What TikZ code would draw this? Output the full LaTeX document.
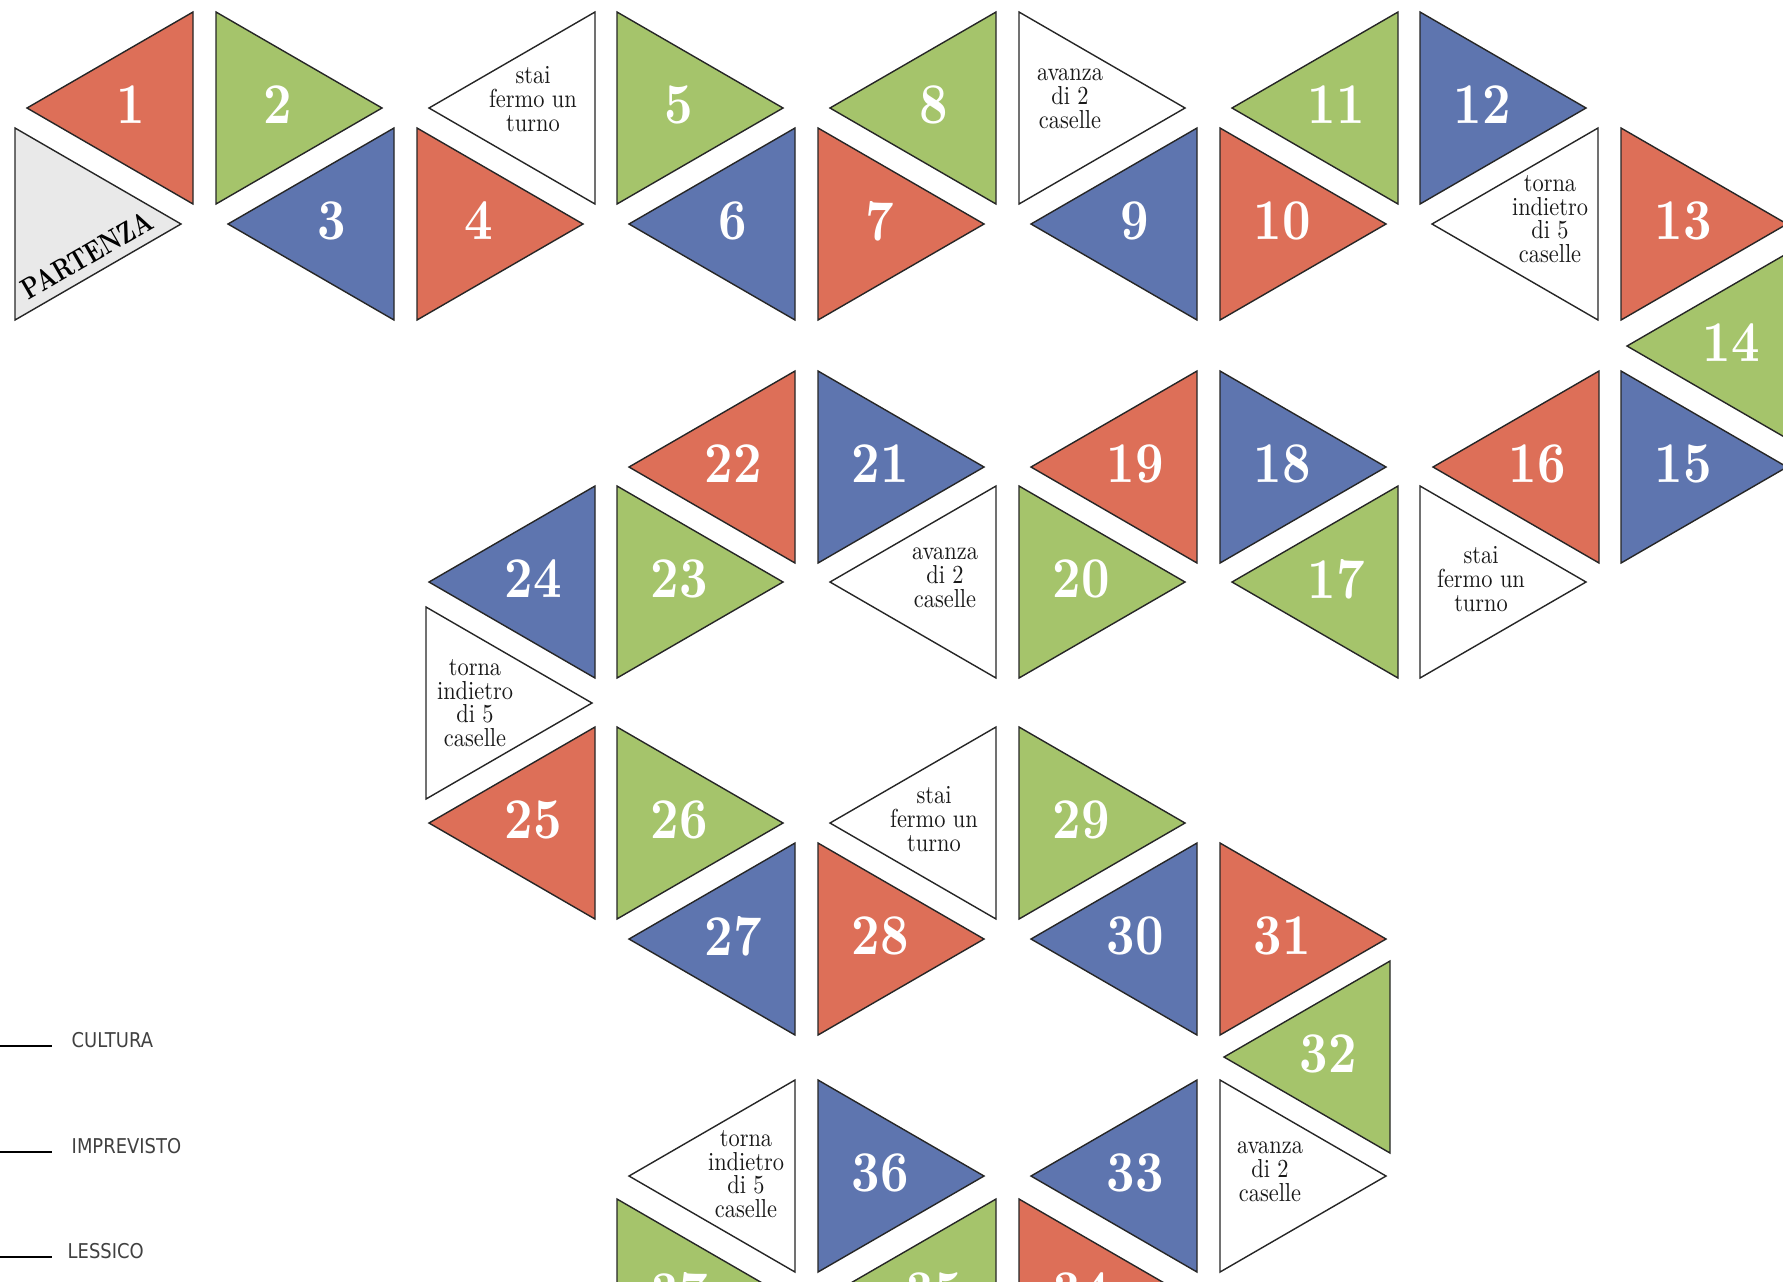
\documentclass[tikz,border=0pt]{standalone}
\usepackage{fontspec}
\newfontfamily\cellfont{lmroman10}[Extension=.otf, UprightFont=*-regular, BoldFont=*-bold, FakeStretch=0.86]
\newfontfamily\startfont{lmroman10}[Extension=.otf, UprightFont=*-bold, FakeStretch=0.78]
\newfontfamily\legendfont{DejaVu Sans}[FakeStretch=0.88]
\definecolor{boardred}{HTML}{DD6F58}
\definecolor{boardgreen}{HTML}{A5C46B}
\definecolor{boardblue}{HTML}{5E75AF}
\definecolor{boardgrey}{HTML}{E9E9E9}
\newcommand{\stai}{stai\\fermo un\\turno}
\newcommand{\avanza}{avanza\\di 2\\caselle}
\newcommand{\torna}{torna\\indietro\\di 5\\caselle}

\begin{document}
\begin{tikzpicture}[x=0.01cm, y=-0.01cm,
  cell/.style={draw=black!85, line width=0.4pt},
  numtxt/.style={text=white, inner sep=0pt, font={\cellfont\bfseries\fontsize{16.4pt}{18pt}\selectfont}},
  ruletxt/.style={text=black!90, inner sep=0pt, align=center, font={\cellfont\fontsize{7.4pt}{6.75pt}\selectfont}},
  legendtxt/.style={text=black!75, inner sep=0pt, anchor=base west, font={\legendfont\fontsize{5.8pt}{7pt}\selectfont}}]
\clip (0,0) rectangle (1783,1281);

% numbered cells: edge x / centre y / side / colour / number
\foreach \ex/\ey/\side/\col/\nr in {
  193/108/-1/boardred/1, 216/108/1/boardgreen/2, 617/108/1/boardgreen/5,
  996/108/-1/boardgreen/8, 1398/108/-1/boardgreen/11, 1420/108/1/boardblue/12,
  394/224/-1/boardblue/3, 417/224/1/boardred/4, 795/224/-1/boardblue/6,
  818/224/1/boardred/7, 1197/224/-1/boardblue/9, 1220/224/1/boardred/10,
  1621/224/1/boardred/13, 1793/346/-1/boardgreen/14,
  795/467/-1/boardred/22, 818/467/1/boardblue/21, 1197/467/-1/boardred/19,
  1220/467/1/boardblue/18, 1599/467/-1/boardred/16, 1621/467/1/boardblue/15,
  595/582/-1/boardblue/24, 617/582/1/boardgreen/23, 1019/582/1/boardgreen/20,
  1398/582/-1/boardgreen/17,
  595/823/-1/boardred/25, 617/823/1/boardgreen/26, 1019/823/1/boardgreen/29,
  795/939/-1/boardblue/27, 818/939/1/boardred/28, 1197/939/-1/boardblue/30,
  1220/939/1/boardred/31, 1390/1057/-1/boardgreen/32,
  818/1176/1/boardblue/36, 1197/1176/-1/boardblue/33,
  617/1295/1/boardgreen/37, 996/1295/-1/boardgreen/35, 1019/1295/1/boardred/34}
{
  \filldraw[cell, fill=\col] (\ex,\ey-96) -- (\ex,\ey+96) -- ({\ex+166*\side},\ey) -- cycle;
  \node[numtxt] (c\nr) at ({\ex+62*\side},\ey-3) {\nr};
}

% white cells: edge x / centre y / side / text shift / text lift / text
\foreach \ex/\ey/\side/\tx/\ty/\lab [count=\i] in {
  595/108/-1/62/-9/\stai, 1019/108/1/51/-9/\avanza, 1598/224/-1/48/-5/\torna,
  996/582/-1/51/-4/\avanza, 1420/582/1/61/-3/\stai, 426/703/1/49/0/\torna,
  996/823/-1/62/-4/\stai, 795/1176/-1/49/-2/\torna, 1220/1176/1/50/-4/\avanza}
{
  \filldraw[cell, fill=white] (\ex,\ey-96) -- (\ex,\ey+96) -- ({\ex+166*\side},\ey) -- cycle;
  \node[ruletxt] (w\i) at ({\ex+\tx*\side},\ey+\ty) {\lab};
}

% start cell
\filldraw[cell, fill=boardgrey] (15,128) -- (15,320) -- (181,224) -- cycle;
\node[rotate=30, inner sep=0pt, font={\startfont\fontsize{8.4pt}{9pt}\selectfont}] (start) at (87,255) {PARTENZA};

% legend
\coordinate (k1) at (0,1046);
\coordinate (k2) at (0,1152);
\coordinate (k3) at (0,1257);
\draw[line width=0.5pt] (k1) -- +(52,0);
\draw[line width=0.5pt] (k2) -- +(52,0);
\draw[line width=0.5pt] (k3) -- +(52,0);
\node[legendtxt] (cultura) at (71,1047) {CULTURA};
\node[legendtxt] (imprevisto) at (71,1153) {IMPREVISTO};
\node[legendtxt] (lessico) at (67,1258) {LESSICO};
\end{tikzpicture}
\end{document}
